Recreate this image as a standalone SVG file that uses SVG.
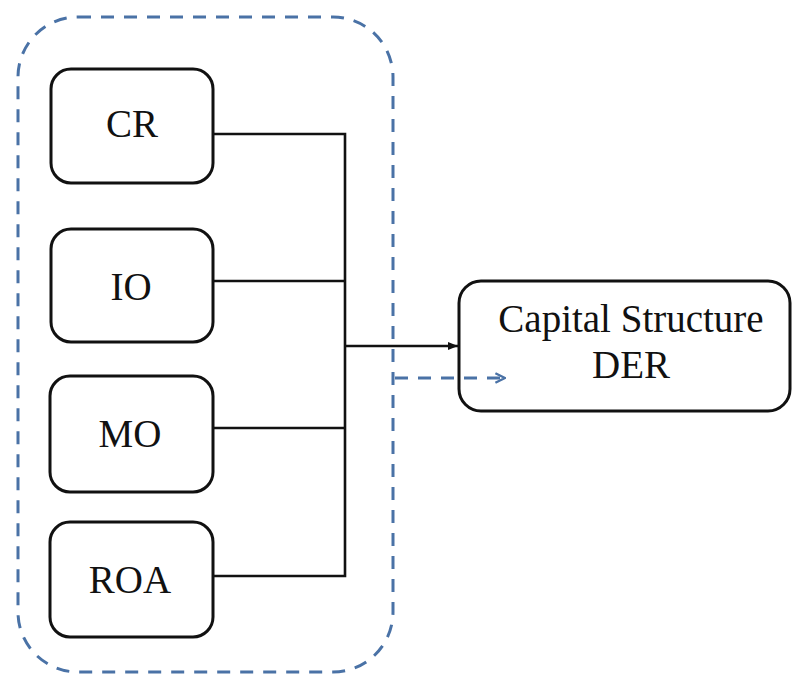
<svg xmlns="http://www.w3.org/2000/svg" width="793" height="675" viewBox="0 0 793 675">
<defs>
<style>
.box{fill:#fff;stroke:#111;stroke-width:3}
.lbl{font-family:"Liberation Serif","Times New Roman",serif;font-size:39px;fill:#111;text-anchor:middle}
.wire{fill:none;stroke:#111;stroke-width:2.6}
.dash{fill:none;stroke:#4a72a6;stroke-width:3;stroke-dasharray:13 10}
</style>
<marker id="ah" viewBox="0 0 10 10" refX="10" refY="5" markerWidth="4" markerHeight="4" orient="auto" markerUnits="strokeWidth">
<path d="M0,1 L10,5 L0,9 Z" fill="#111"/>
</marker>
<marker id="oh" viewBox="0 0 10 10" refX="9" refY="5" markerWidth="4" markerHeight="4" orient="auto" markerUnits="strokeWidth">
<path d="M1,1 L9,5 L1,9" fill="none" stroke="#4a72a6" stroke-width="2"/>
</marker>
</defs>
<rect x="0" y="0" width="793" height="675" fill="#fff"/>
<g id="group">
<rect class="dash" x="18" y="17" width="375" height="655" rx="60" ry="60"/>
</g>
<g id="node-cr">
<rect class="box" x="51" y="69" width="162" height="114" rx="20"/>
<text class="lbl" x="132" y="137">CR</text>
</g>
<g id="node-io">
<rect class="box" x="51" y="229" width="162" height="113" rx="20"/>
<text class="lbl" x="131" y="300">IO</text>
</g>
<g id="node-mo">
<rect class="box" x="50" y="376" width="163" height="116" rx="20"/>
<text class="lbl" x="130" y="447">MO</text>
</g>
<g id="node-roa">
<rect class="box" x="50" y="522" width="163" height="115" rx="20"/>
<text class="lbl" x="130" y="593">ROA</text>
</g>
<g id="node-der">
<rect class="box" x="459" y="281" width="331" height="130" rx="22"/>
<text class="lbl" x="631" y="332">Capital Structure</text>
<text class="lbl" x="631" y="378">DER</text>
</g>
<g id="connectors">
<polyline class="wire" points="213,134 345,134 345,576 213,576"/>
<line class="wire" x1="213" y1="281" x2="345" y2="281"/>
<line class="wire" x1="213" y1="428" x2="345" y2="428"/>
<line class="wire" x1="345" y1="346" x2="458" y2="346" marker-end="url(#ah)"/>
<line class="dash" x1="393" y1="378" x2="505" y2="378" marker-end="url(#oh)" stroke-dasharray="12 10" stroke-dashoffset="-2"/>
</g>
</svg>
